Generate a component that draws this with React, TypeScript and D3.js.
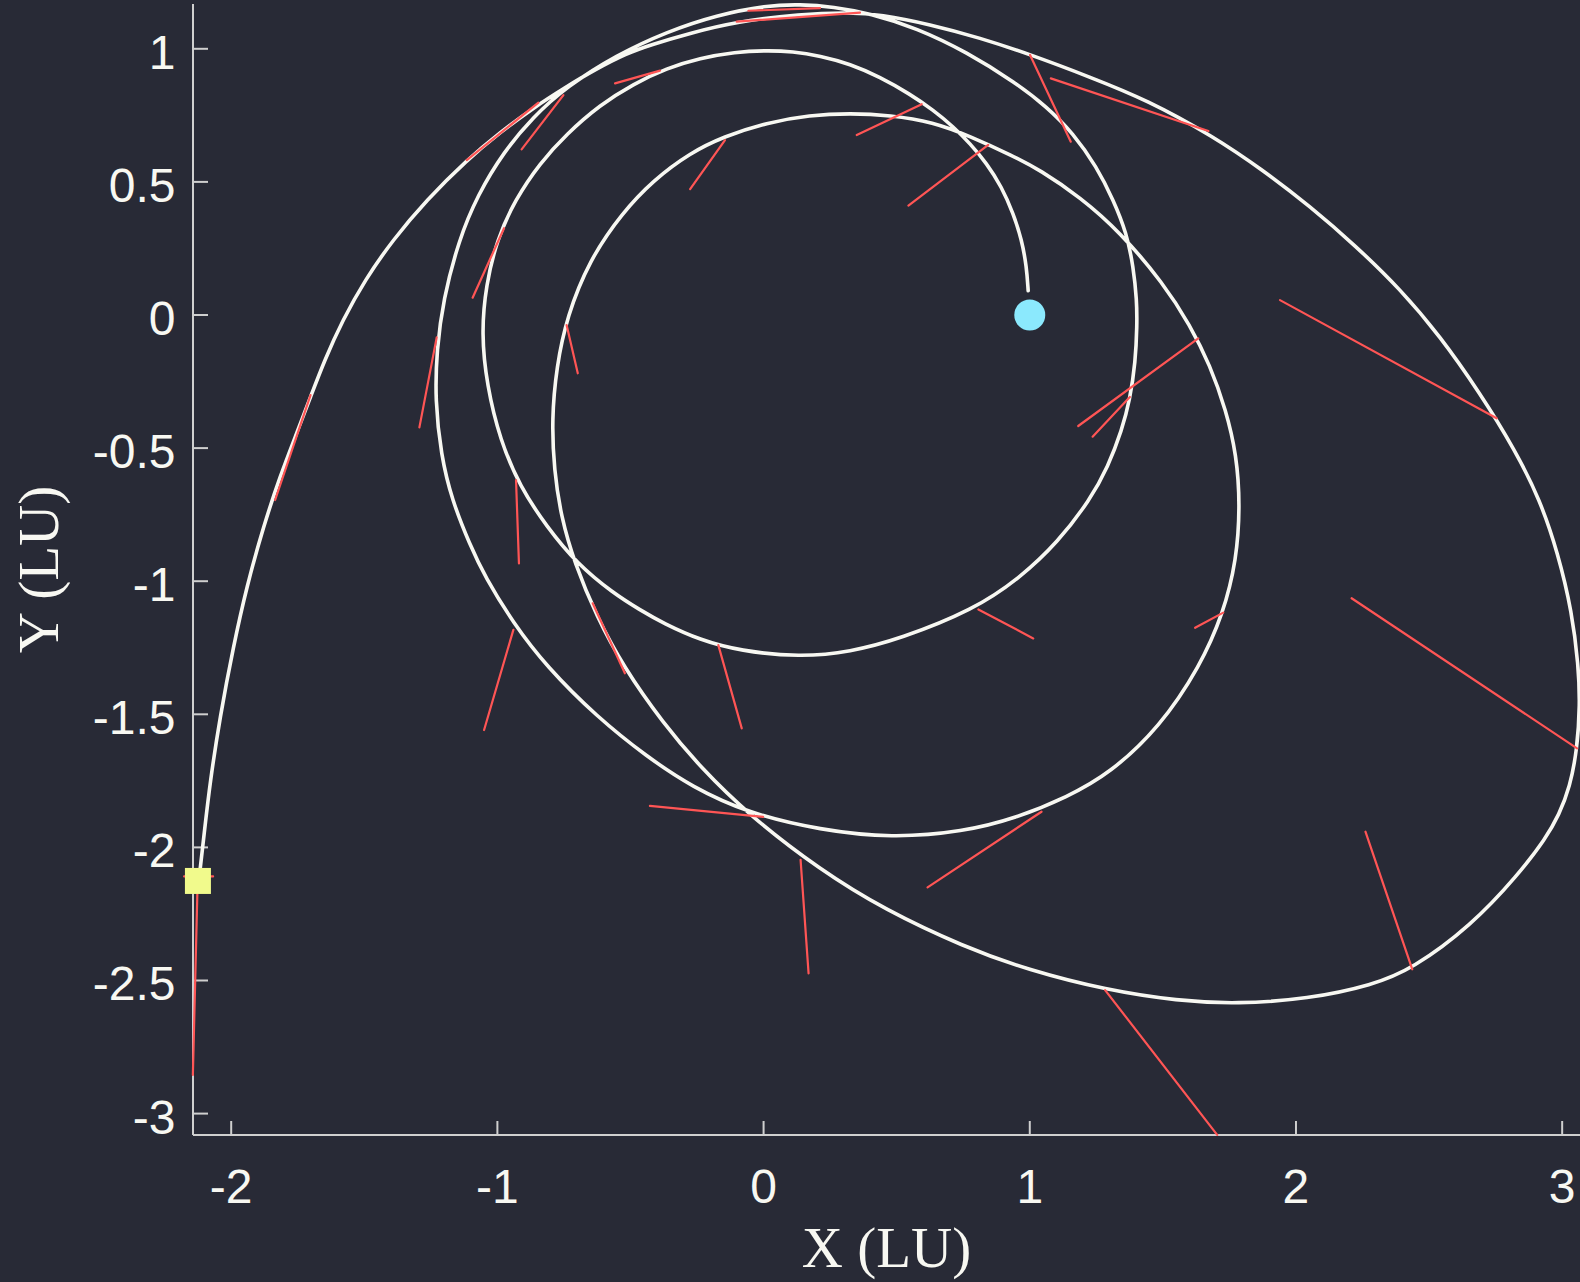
import React, { useEffect } from 'react';
import * as d3 from 'd3';

type Pt = [number, number];

// Axis limits (LU) and ticks
const xLimits: [number, number] = [-2.1435, 3.067];
const yLimits: [number, number] = [-3.0804, 1.1683];
const xTicks = [-2, -1, 0, 1, 2, 3];
const yTicks = [1, 0.5, 0, -0.5, -1, -1.5, -2, -2.5, -3];

// Spacecraft path, in flight order (LU)
const departureLoop: Pt[] = [
  [0.994, 0.091], [0.988, 0.181], [0.97, 0.282], [0.938, 0.382], [0.894, 0.482],
  [0.838, 0.57], [0.775, 0.645], [0.713, 0.707], [0.637, 0.77], [0.55, 0.83],
  [0.437, 0.894], [0.325, 0.943], [0.212, 0.973], [0.11, 0.99], [0.009, 0.994],
  [-0.107, 0.988], [-0.239, 0.965], [-0.364, 0.927], [-0.489, 0.868], [-0.615, 0.789],
  [-0.74, 0.68], [-0.84, 0.571], [-0.934, 0.432], [-1.002, 0.282], [-1.043, 0.113],
  [-1.06, -0.068], [-1.04, -0.263], [-0.99, -0.47], [-0.915, -0.645], [-0.815, -0.795],
  [-0.702, -0.933], [-0.565, -1.045], [-0.464, -1.108], [-0.377, -1.158], [-0.239, -1.221],
  [-0.089, -1.262], [0.137, -1.285], [0.325, -1.266], [0.512, -1.217], [0.788, -1.108],
  [0.963, -0.988], [1.106, -0.853], [1.226, -0.695], [1.294, -0.57], [1.346, -0.432],
  [1.376, -0.319], [1.397, -0.177], [1.403, -0.038],
];

const secondLoop: Pt[] = [
  [1.402, 0.056], [1.389, 0.181], [1.364, 0.307], [1.314, 0.432], [1.251, 0.557],
  [1.163, 0.683], [1.063, 0.783], [0.948, 0.872], [0.763, 0.988], [0.575, 1.078],
  [0.4, 1.133], [0.262, 1.158], [0.137, 1.167], [0.012, 1.163], [-0.176, 1.127],
  [-0.364, 1.064], [-0.552, 0.977], [-0.74, 0.858], [-0.866, 0.744], [-0.977, 0.612],
  [-1.074, 0.451], [-1.145, 0.282], [-1.204, 0.056], [-1.228, -0.131], [-1.234, -0.319],
  [-1.212, -0.526], [-1.171, -0.695], [-1.103, -0.864], [-1.047, -0.983], [-0.94, -1.158],
  [-0.815, -1.321], [-0.627, -1.509], [-0.439, -1.659], [-0.269, -1.773], [-0.056, -1.872],
  [0.213, -1.935], [0.482, -1.965], [0.751, -1.941], [0.946, -1.891], [1.142, -1.81],
  [1.301, -1.722], [1.489, -1.547], [1.639, -1.321], [1.727, -1.121], [1.777, -0.92],
  [1.79, -0.714], [1.777, -0.526], [1.737, -0.357], [1.677, -0.188], [1.602, -0.038],
];

const thirdLoop: Pt[] = [
  [1.502, 0.119], [1.339, 0.312], [1.189, 0.443], [1.038, 0.545], [0.938, 0.597],
  [0.775, 0.672], [0.637, 0.725], [0.475, 0.751], [0.325, 0.758], [0.174, 0.751],
  [0.012, 0.723], [-0.151, 0.67], [-0.276, 0.609], [-0.414, 0.507], [-0.533, 0.382],
  [-0.654, 0.207], [-0.739, -0.006], [-0.778, -0.194], [-0.796, -0.394], [-0.787, -0.582],
  [-0.761, -0.758], [-0.71, -0.933], [-0.627, -1.133], [-0.527, -1.321], [-0.377, -1.534],
  [-0.239, -1.697], [-0.056, -1.878], [0.213, -2.085], [0.457, -2.235], [0.751, -2.373],
  [0.995, -2.461], [1.288, -2.536], [1.557, -2.577], [1.778, -2.588], [2.045, -2.57],
  [2.289, -2.517], [2.436, -2.457], [2.657, -2.295], [2.834, -2.104], [2.939, -1.965],
  [2.988, -1.878], [3.029, -1.773], [3.056, -1.634], [3.067, -1.465], [3.061, -1.315],
  [3.037, -1.116], [2.984, -0.894], [2.917, -0.695], [2.823, -0.507], [2.691, -0.293],
  [2.541, -0.079], [2.391, 0.098],
];

const arrivalArc: Pt[] = [
  [2.225, 0.259], [2.053, 0.408], [1.876, 0.544], [1.688, 0.672], [1.44, 0.808],
  [1.226, 0.894], [1.001, 0.979], [0.813, 1.041], [0.625, 1.092], [0.437, 1.129],
  [0.325, 1.137], [0.137, 1.131], [-0.101, 1.102], [-0.276, 1.059], [-0.427, 1.014],
  [-0.514, 0.983], [-0.633, 0.922], [-0.74, 0.858], [-0.865, 0.778], [-0.99, 0.686],
  [-1.115, 0.582], [-1.266, 0.432], [-1.393, 0.282], [-1.498, 0.131], [-1.581, -0.019],
  [-1.649, -0.169], [-1.702, -0.308], [-1.754, -0.444], [-1.817, -0.607], [-1.879, -0.795],
  [-1.942, -1.021], [-1.992, -1.246], [-2.042, -1.509], [-2.08, -1.759], [-2.1, -1.935],
  [-2.121, -2.12],
];

// Thrust direction segments: [x1, y1, x2, y2] (LU)
const thrustSegments: [number, number, number, number][] = [
  [1.001, 0.977, 1.154, 0.651],
  [1.671, 0.691, 1.079, 0.889],
  [0.844, 0.639, 0.544, 0.411],
  [0.594, 0.792, 0.35, 0.676],
  [2.754, -0.388, 1.94, 0.056],
  [1.633, -0.088, 1.182, -0.417],
  [1.376, -0.308, 1.236, -0.457],
  [1.727, -1.118, 1.621, -1.175],
  [3.056, -1.628, 2.209, -1.064],
  [0.807, -1.106, 1.013, -1.215],
  [-0.17, -1.24, -0.082, -1.553],
  [-0.642, -1.083, -0.521, -1.346],
  [-0.93, -0.62, -0.919, -0.933],
  [-0.94, -1.183, -1.05, -1.559],
  [-0.74, -0.038, -0.698, -0.219],
  [-1.228, -0.084, -1.293, -0.422],
  [-0.975, 0.326, -1.093, 0.065],
  [-1.702, -0.301, -1.835, -0.695],
  [-0.846, 0.798, -1.115, 0.582],
  [-0.752, 0.826, -0.909, 0.622],
  [-0.389, 0.918, -0.558, 0.87],
  [-0.145, 0.657, -0.276, 0.473],
  [-0.057, 1.143, 0.212, 1.153],
  [0.362, 1.136, -0.101, 1.102],
  [-0.002, -1.885, -0.427, -1.844],
  [0.139, -2.047, 0.169, -2.473],
  [1.044, -1.866, 0.616, -2.15],
  [1.283, -2.536, 1.704, -3.08],
  [2.437, -2.458, 2.261, -1.941],
  [-2.126, -2.126, -2.144, -2.855],
  [-2.177, -2.109, -2.068, -2.109],
];

const startPoint: Pt = [1.0, 0.0];
const endPoint: Pt = [-2.125, -2.126];

const W = 1580;
const H = 1282;
const BG = '#282a36';
const FG = '#f8f8f2';
const AXIS = '#cfcfcf';

export default function App() {
  useEffect(() => {
    document.body.style.margin = '0';
    document.body.style.background = BG;
    document.body.style.overflow = 'hidden';
  }, []);

  const x = d3.scaleLinear().domain(xLimits).range([193, 1580]);
  const y = d3.scaleLinear().domain(yLimits).range([1135, 4]);

  const path = [...departureLoop, ...secondLoop, ...thirdLoop, ...arrivalArc];
  const line = d3
    .line<Pt>()
    .x((d) => x(d[0]))
    .y((d) => y(d[1]))
    .curve(d3.curveBasis);

  const x0 = x(xLimits[0]);
  const yBottom = y(yLimits[0]);
  const yTop = y(yLimits[1]);
  const xRight = x(xLimits[1]);

  const tickFont = "'Liberation Sans', Arial, Helvetica, sans-serif";
  const titleFont = "'Liberation Serif', 'Times New Roman', serif";

  return (
    <svg
      width={W}
      height={H}
      style={{ position: 'absolute', left: 0, top: 0, background: BG }}
    >
      <rect x={0} y={0} width={W} height={H} fill={BG} />

      {/* axes */}
      <g stroke={AXIS} strokeWidth={2} fill="none">
        <line x1={x0} y1={yTop} x2={x0} y2={yBottom} />
        <line x1={x0} y1={yBottom} x2={xRight} y2={yBottom} />
        {xTicks.map((t) => (
          <line key={`xt${t}`} x1={x(t)} x2={x(t)} y1={yBottom} y2={yBottom - 14} />
        ))}
        {yTicks.map((t) => (
          <line key={`yt${t}`} x1={x0} x2={x0 + 15} y1={y(t)} y2={y(t)} />
        ))}
      </g>
      <g fill={FG} fontFamily={tickFont} fontSize={48}>
        {xTicks.map((t) => (
          <text key={`xl${t}`} x={x(t)} y={1203} textAnchor="middle">
            {String(t)}
          </text>
        ))}
        {yTicks.map((t) => (
          <text key={`yl${t}`} x={175.5} y={y(t) + 20} textAnchor="end">
            {String(t)}
          </text>
        ))}
      </g>
      <text
        x={(x0 + xRight) / 2}
        y={1267}
        textAnchor="middle"
        fill={FG}
        fontFamily={titleFont}
        fontSize={57}
      >
        X (LU)
      </text>
      <text
        transform={`translate(58, ${(yTop + yBottom) / 2}) rotate(-90)`}
        textAnchor="middle"
        fill={FG}
        fontFamily={titleFont}
        fontSize={57}
      >
        Y (LU)
      </text>

      {/* trajectory */}
      <path
        d={line(path) ?? ''}
        fill="none"
        stroke={FG}
        strokeWidth={3.6}
        strokeLinejoin="round"
        strokeLinecap="round"
      />

      {/* thrust directions */}
      <g stroke="#ff5555" strokeWidth={2.2} strokeLinecap="round">
        {thrustSegments.map((s, i) => (
          <line key={i} x1={x(s[0])} y1={y(s[1])} x2={x(s[2])} y2={y(s[3])} />
        ))}
      </g>

      {/* departure and arrival markers */}
      <circle cx={x(startPoint[0])} cy={y(startPoint[1])} r={15.5} fill="#8be9fd" />
      <rect
        x={x(endPoint[0]) - 13}
        y={y(endPoint[1]) - 13}
        width={26}
        height={26}
        fill="#f1fa8c"
      />
    </svg>
  );
}
